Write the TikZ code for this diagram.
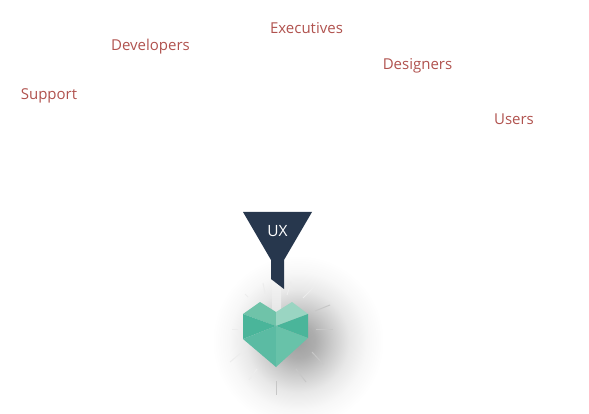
\documentclass[tikz,border=0pt]{standalone}
\usepackage{fontspec}
\setmainfont{Open Sans}
\definecolor{labelred}{HTML}{B0524E}
\definecolor{funnelblue}{HTML}{27374D}
\definecolor{facetA}{HTML}{6FC3A9}
\definecolor{facetB}{HTML}{9AD5C2}
\definecolor{facetC}{HTML}{4AB59A}
\definecolor{facetD}{HTML}{5BBBA3}
\definecolor{facetE}{HTML}{68C2A9}
\pgfdeclareradialshading{heartglow}{\pgfpointorigin}{%
  color(0bp)=(black!38);color(5bp)=(black!32);color(10bp)=(black!20);
  color(15bp)=(black!9);color(20bp)=(black!3);color(25bp)=(white);color(50bp)=(white)}
\pgfdeclareverticalshading{heartbeam}{100bp}{%
  color(0bp)=(black!13);color(60bp)=(black!6);color(100bp)=(white)}
\tikzset{
  stakeholder/.style={text=labelred,font=\fontsize{15}{17}\selectfont,inner sep=0pt,anchor=base},
  ray/.style={black!22,line width=1pt},
  faintray/.style={black!7,line width=1pt},
  facet/.style={draw=none}
}
\begin{document}
\begin{tikzpicture}[x=1pt,y=-1pt]
  \useasboundingbox (0,0) rectangle (589,414);
  % Labels around the funnel
  \node[stakeholder] (executives) at (306.5,34) {Executives};
  \node[stakeholder] (developers) at (150.5,51) {Developers};
  \node[stakeholder] (designers) at (417.5,70) {Designers};
  \node[stakeholder] (support) at (49,100) {Support};
  \node[stakeholder] (users) at (514,125) {Users};
  % Shadow behind the heart
  \begin{scope}
  \clip (0,0) rectangle (589,414);
  \shade[shading=heartglow] (298,341) circle (86);
  \end{scope}
  % Beam between funnel and heart
  \shade[shading=heartbeam] (272,280) rectangle (281,314);
  % Rays
  \draw[ray] (315,311) -- (330,305);
  \draw[ray] (316,329) -- (333,329);
  \draw[ray] (312,352) -- (323,364);
  \draw[ray] (296,369) -- (306,382);
  \draw[ray] (276,381) -- (276,395);
  \draw[faintray] (303,298) -- (314,287);
  \draw[faintray] (257,369) -- (249,380);
  \draw[faintray] (242,352) -- (230,362);
  \draw[faintray] (238,329) -- (232,329);
  \draw[faintray] (287,295) -- (291,282);
  \draw[faintray] (265,293) -- (263,283);
  \draw[faintray] (248,297) -- (245,294);
  % Funnel
  \fill[funnelblue] (243,212) -- (312,212) -- (284,260) -- (284,289) -- (271,279) -- (271,260) -- cycle;
  \node[text=white,font=\fontsize{15.5}{17}\selectfont,inner sep=0pt] (ux) at (277.5,231) {UX};
  % Heart
  \fill[facetA,facet] (243,314) -- (260,302) -- (276,312) -- (276,326) -- cycle;
  \fill[facetB,facet] (308,314) -- (292,302) -- (276,312) -- (276,326) -- cycle;
  \fill[facetC,facet] (243,314) -- (276,326) -- (243,339) -- cycle;
  \fill[facetC,facet] (308,314) -- (276,326) -- (308,338) -- cycle;
  \fill[facetD,facet] (243,339) -- (276,326) -- (276,367) -- cycle;
  \fill[facetE,facet] (308,338) -- (276,326) -- (276,367) -- cycle;
\end{tikzpicture}
\end{document}
